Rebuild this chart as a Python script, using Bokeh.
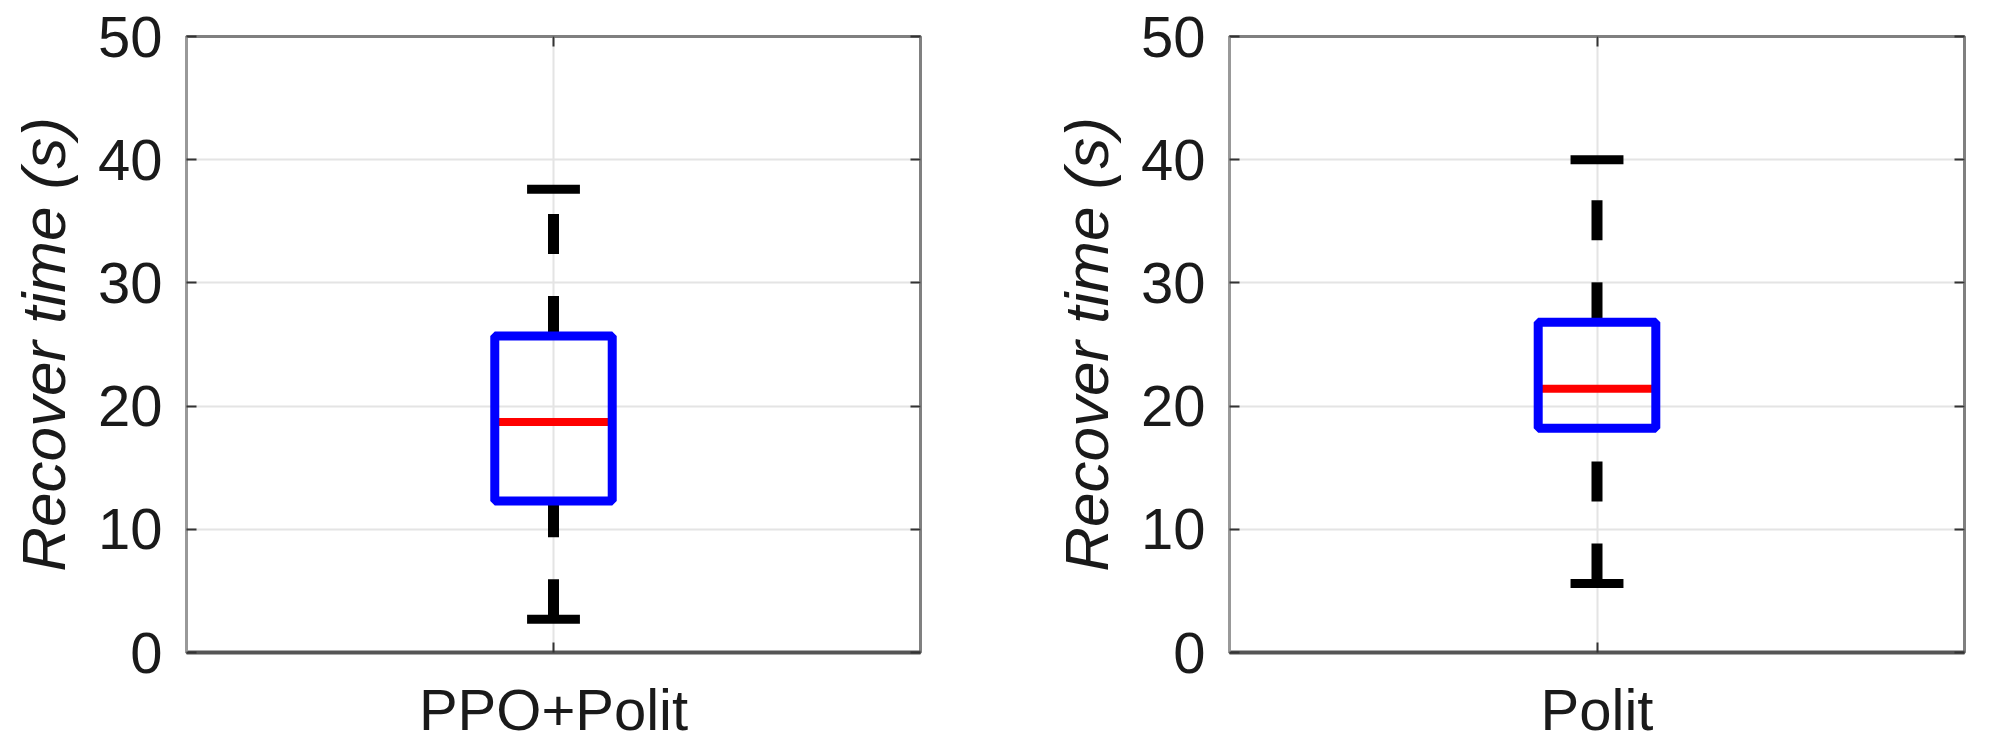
from bokeh.plotting import figure
from bokeh.models import LinearAxis, FixedTicker, Range1d
from bokeh.layouts import row
from bokeh.embed import file_html
from bokeh.resources import INLINE

# ---- data ----
categories = ["PPO+Polit", "Polit"]
whisker_low = [2.7, 5.6]
q1 = [12.3, 18.2]
median = [18.7, 21.4]
q3 = [25.7, 26.8]
whisker_high = [37.6, 40.0]

y_ticks = [0, 10, 20, 30, 40, 50]
y_label = "Recover time (s)"

FONT = "Liberation Sans"
BOX_W = 0.16
CAP_W = 0.072


def panel(i, frame_w, border_left, border_right):
    p = figure(frame_width=frame_w, frame_height=616,
               x_range=Range1d(0.5, 1.5), y_range=Range1d(0, 50),
               output_backend="svg", toolbar_location=None,
               min_border_left=border_left, min_border_right=border_right,
               min_border_top=36, min_border_bottom=95)
    p.background_fill_color = "white"
    p.border_fill_color = "white"
    p.outline_line_color = "#808080"
    p.outline_line_width = 3

    # axes
    ya = p.yaxis[0]
    ya.ticker = FixedTicker(ticks=y_ticks)
    ya.axis_label = y_label
    ya.axis_label_text_font = FONT
    ya.axis_label_text_font_style = "italic"
    ya.axis_label_text_font_size = "62px"
    ya.axis_label_text_color = "#1a1a1a"
    ya.axis_label_standoff = 17
    ya.major_label_text_font = FONT
    ya.major_label_text_font_style = "normal"
    ya.major_label_text_font_size = "58px"
    ya.major_label_text_color = "#1a1a1a"
    ya.major_label_standoff = 24
    ya.major_tick_in = 10
    ya.major_tick_out = 0
    ya.major_tick_line_color = "#333333"
    ya.major_tick_line_width = 2
    ya.minor_tick_line_color = None
    ya.axis_line_color = "#999999"
    ya.axis_line_width = 3

    xa = p.xaxis[0]
    xa.ticker = FixedTicker(ticks=[1])
    xa.major_label_overrides = {1: categories[i]}
    xa.major_label_text_font = FONT
    xa.major_label_text_font_size = "58px"
    xa.major_label_text_color = "#1a1a1a"
    xa.major_label_standoff = 24
    xa.major_tick_in = 10
    xa.major_tick_out = 0
    xa.major_tick_line_color = "#333333"
    xa.major_tick_line_width = 2
    xa.minor_tick_line_color = None
    xa.axis_line_color = "#555555"
    xa.axis_line_width = 4

    # mirrored ticks (box on)
    ra = LinearAxis(ticker=FixedTicker(ticks=y_ticks))
    ta = LinearAxis(ticker=FixedTicker(ticks=[1]))
    for ax in (ra, ta):
        ax.major_label_text_font_size = "0px"
        ax.major_label_text_color = None
        ax.major_label_standoff = 0
        ax.major_tick_in = 10
        ax.major_tick_out = 0
        ax.major_tick_line_color = "#333333"
        ax.major_tick_line_width = 2
        ax.minor_tick_line_color = None
        ax.axis_line_color = None
    p.add_layout(ra, "right")
    p.add_layout(ta, "above")

    # grids
    p.ygrid.ticker = FixedTicker(ticks=y_ticks[1:-1])
    p.ygrid.grid_line_color = "#e4e4e4"
    p.ygrid.grid_line_width = 2
    p.xgrid.ticker = FixedTicker(ticks=[1])
    p.xgrid.grid_line_color = "#e4e4e4"
    p.xgrid.grid_line_width = 2

    x = 1.0
    # whiskers (drawn from the lower end upward, as in the reference)
    p.segment(x0=[x, x], y0=[whisker_low[i], q3[i]],
              x1=[x, x], y1=[q1[i], whisker_high[i]],
              line_color="black", line_width=11, line_dash="40 42",
              line_cap="butt")
    # caps
    p.segment(x0=[x - CAP_W / 2] * 2, y0=[whisker_low[i], whisker_high[i]],
              x1=[x + CAP_W / 2] * 2, y1=[whisker_low[i], whisker_high[i]],
              line_color="black", line_width=9, line_cap="butt")
    # median
    p.segment(x0=[x - BOX_W / 2], y0=[median[i]],
              x1=[x + BOX_W / 2], y1=[median[i]],
              line_color="#ff0000", line_width=8)
    # box
    p.quad(left=[x - BOX_W / 2], right=[x + BOX_W / 2],
           bottom=[q1[i]], top=[q3[i]],
           fill_color=None, line_color="#0000ff", line_width=9)
    return p


p1 = panel(0, 734, 186, 128)
p2 = panel(1, 735, 178, 25)
layout = row(p1, p2)

open("out.html", "w").write(file_html(layout, INLINE))
